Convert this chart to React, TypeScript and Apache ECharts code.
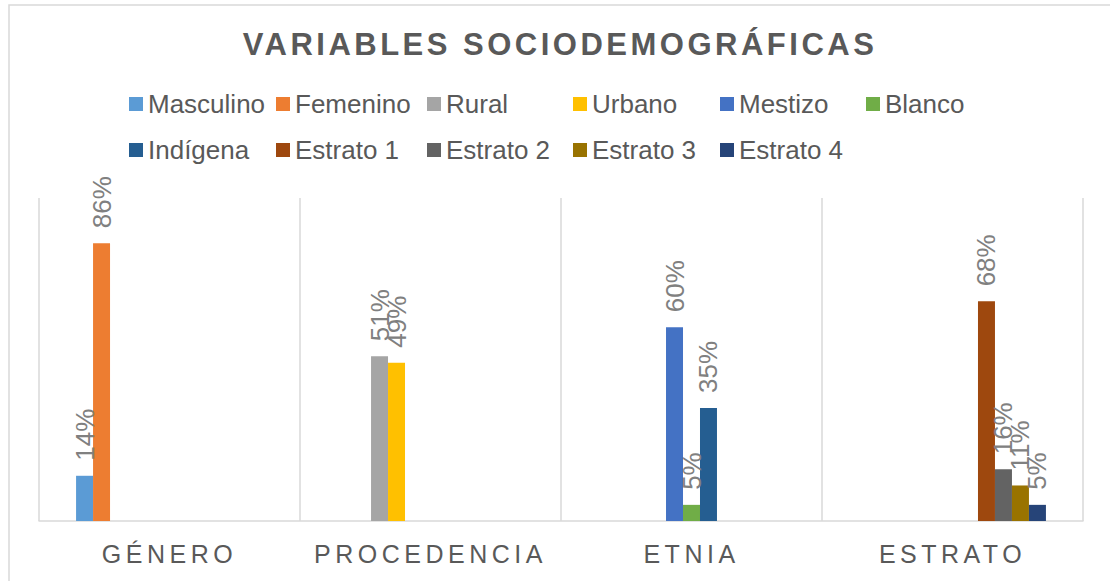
import React, { useEffect, useRef } from "react";
import * as echarts from "echarts";

const TITLE = "VARIABLES SOCIODEMOGRÁFICAS";
const categories = ["GÉNERO", "PROCEDENCIA", "ETNIA", "ESTRATO"];
const seriesNames = [
  "Masculino", "Femenino", "Rural", "Urbano", "Mestizo", "Blanco",
  "Indígena", "Estrato 1", "Estrato 2", "Estrato 3", "Estrato 4",
];
// category index each series belongs to, and its value (%)
const seriesCategory = [0, 0, 1, 1, 2, 2, 2, 3, 3, 3, 3];
const seriesValues = [14, 86, 51, 49, 60, 5, 35, 68, 16, 11, 5];

const colors = [
  "#5B9BD5", "#ED7D31", "#A5A5A5", "#FFC000", "#4472C4", "#70AD47",
  "#255E91", "#9E480E", "#636363", "#997300", "#264478",
];

// legend layout (pixel positions of each legend item)
const legendLeft = [129, 276, 427, 573, 720, 866, 129, 276, 427, 573, 720];
const legendTop = [91, 91, 91, 91, 91, 91, 137, 137, 137, 137, 137];

const FONT = "'Liberation Sans', Arial, sans-serif";

export default function App() {
  const ref = useRef<HTMLDivElement>(null);

  useEffect(() => {
    if (!ref.current) return;
    const chart = echarts.init(ref.current, null, { renderer: "svg" });

    const series = seriesNames.map((name, i) => ({
      name,
      type: "bar",
      barGap: "0%",
      barCategoryGap: "28.4%",
      itemStyle: { color: colors[i] },
      data: categories.map((_, c) => (c === seriesCategory[i] ? seriesValues[i] : "-")),
      label: {
        show: true,
        position: "top",
        rotate: 90,
        align: "left",
        verticalAlign: "middle",
        distance: 15,
        formatter: "{c}%",
        color: "#808080",
        fontSize: 26,
        fontFamily: FONT,
      },
    }));

    const legends = seriesNames.map((name, i) => ({
      data: [name],
      left: legendLeft[i],
      top: legendTop[i],
      padding: 0,
      icon: "rect",
      itemWidth: 14,
      itemHeight: 14,
      selectedMode: false,
      textStyle: { color: "#595959", fontSize: 26, fontFamily: FONT, padding: [0, 0, 0, 0] },
    }));

    chart.setOption({
      animation: false,
      backgroundColor: "#ffffff",
      color: colors,
      legend: legends,
      grid: { left: 39, right: 27, top: 198, bottom: 60, containLabel: false },
      xAxis: {
        type: "category",
        data: categories,
        axisLine: { show: true, lineStyle: { color: "#d9d9d9", width: 1.5 } },
        axisTick: { show: false },
        splitLine: { show: true, lineStyle: { color: "#d9d9d9", width: 1.5 } },
        axisLabel: {
          color: "#595959",
          fontSize: 25,
          fontFamily: FONT,
          margin: 33,
          verticalAlign: "middle",
        },
      },
      yAxis: {
        type: "value",
        min: 0,
        max: 100,
        show: false,
        splitLine: { show: false },
      },
      graphic: [
        {
          type: "rect",
          shape: { x: 9, y: 5, width: 1200, height: 700 },
          style: { fill: "none", stroke: "#d9d9d9", lineWidth: 1.5 },
          silent: true,
          z: -1,
        },
        {
          type: "text",
          x: 560,
          y: 44,
          style: {
            text: TITLE,
            fill: "#595959",
            fontSize: 31,
            fontWeight: "bold",
            fontFamily: FONT,
            align: "center",
            verticalAlign: "middle",
          },
        },
      ],
      series,
    });

    const applySpacing = () => {
      if (!ref.current) return;
      ref.current.querySelectorAll("text").forEach((t) => {
        const s = t.textContent || "";
        if (s === TITLE) t.setAttribute("letter-spacing", "3.5");
        else if (categories.includes(s)) t.setAttribute("letter-spacing", "4.5");
      });
    };
    applySpacing();
    chart.on("finished", applySpacing);

    return () => chart.dispose();
  }, []);

  return (
    <div
      ref={ref}
      style={{ position: "fixed", left: 0, top: 0, width: 1110, height: 581, background: "#fff" }}
    />
  );
}
